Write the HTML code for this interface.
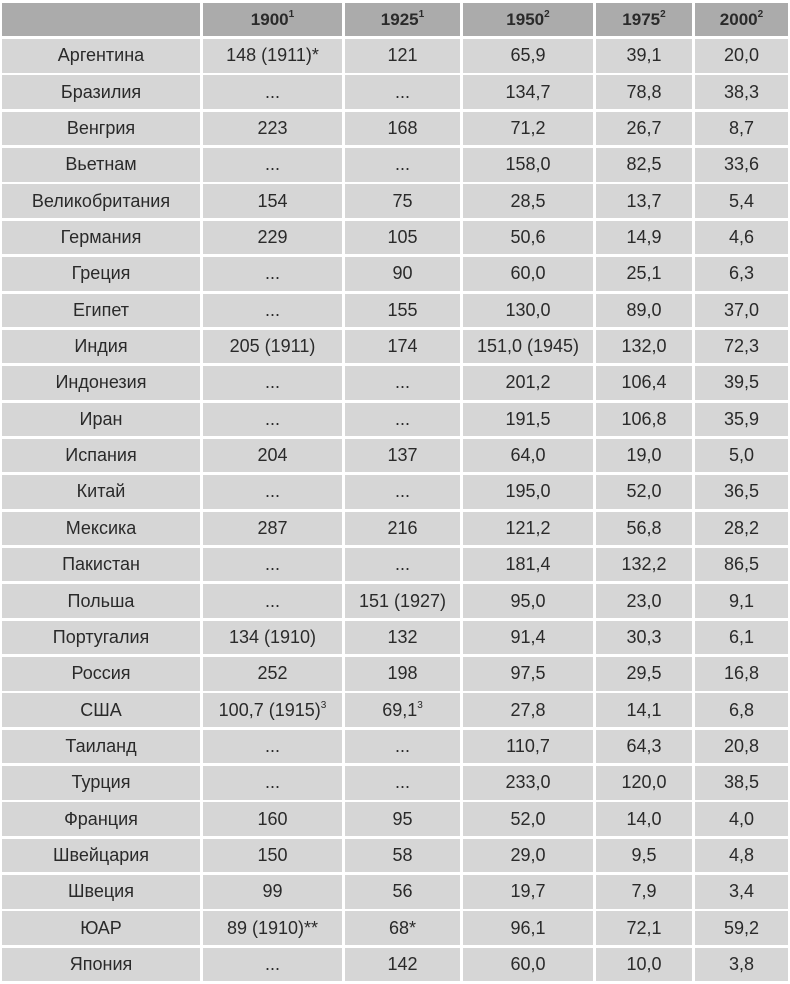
<!DOCTYPE html>
<html><head><meta charset="utf-8"><style>
body{margin:0;width:790px;height:984px;background:#fff;position:relative;overflow:hidden;font-family:"Liberation Sans","DejaVu Sans",sans-serif;color:#2a2a2a}
.c{position:absolute;background:#d6d6d6;display:flex;align-items:center;justify-content:center;font-size:18px;white-space:nowrap}
.h{background:#ababab;font-weight:bold;font-size:17px}
.c span{display:inline-block}
sup{font-size:10px;position:relative;top:-8px;vertical-align:baseline;line-height:0}
</style></head><body>
<script>
const cols=[[2,198],[203,139],[345,115],[463,130],[596,96],[695,93]];
const head=['','1900<sup>1</sup>','1925<sup>1</sup>','1950<sup>2</sup>','1975<sup>2</sup>','2000<sup>2</sup>'];
const rows=[
['Аргентина','148 (1911)*','121','65,9','39,1','20,0'],
['Бразилия','...','...','134,7','78,8','38,3'],
['Венгрия','223','168','71,2','26,7','8,7'],
['Вьетнам','...','...','158,0','82,5','33,6'],
['Великобритания','154','75','28,5','13,7','5,4'],
['Германия','229','105','50,6','14,9','4,6'],
['Греция','...','90','60,0','25,1','6,3'],
['Египет','...','155','130,0','89,0','37,0'],
['Индия','205 (1911)','174','151,0 (1945)','132,0','72,3'],
['Индонезия','...','...','201,2','106,4','39,5'],
['Иран','...','...','191,5','106,8','35,9'],
['Испания','204','137','64,0','19,0','5,0'],
['Китай','...','...','195,0','52,0','36,5'],
['Мексика','287','216','121,2','56,8','28,2'],
['Пакистан','...','...','181,4','132,2','86,5'],
['Польша','...','151 (1927)','95,0','23,0','9,1'],
['Португалия','134 (1910)','132','91,4','30,3','6,1'],
['Россия','252','198','97,5','29,5','16,8'],
['США','100,7 (1915)<sup>3</sup>','69,1<sup>3</sup>','27,8','14,1','6,8'],
['Таиланд','...','...','110,7','64,3','20,8'],
['Турция','...','...','233,0','120,0','38,5'],
['Франция','160','95','52,0','14,0','4,0'],
['Швейцария','150','58','29,0','9,5','4,8'],
['Швеция','99','56','19,7','7,9','3,4'],
['ЮАР','89 (1910)**','68*','96,1','72,1','59,2'],
['Япония','...','142','60,0','10,0','3,8']];
let h='';
cols.forEach((c,j)=>{h+=`<div class="c h" style="left:${c[0]}px;top:3px;width:${c[1]}px;height:33px"><span>${head[j]}</span></div>`});
rows.forEach((r,i)=>{const t=39+i*36.35;cols.forEach((c,j)=>{h+=`<div class="c" style="left:${c[0]}px;top:${t.toFixed(1)}px;width:${c[1]}px;height:33.5px"><span>${r[j]}</span></div>`})});
document.body.innerHTML=h;
</script>
</body></html>
